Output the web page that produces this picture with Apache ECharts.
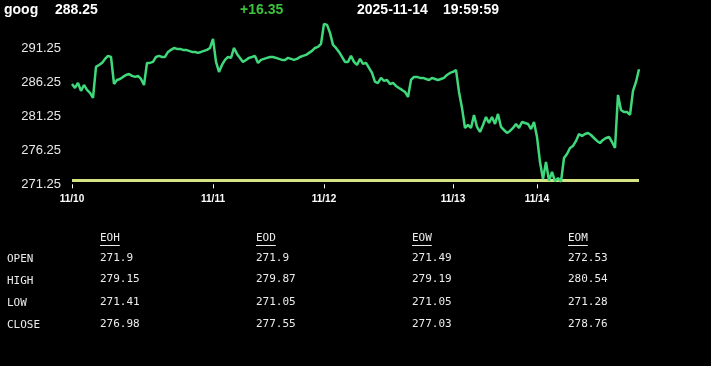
<!DOCTYPE html>
<html>
<head>
<meta charset="utf-8">
<script src="https://cdn.jsdelivr.net/npm/echarts@6.0.0/dist/echarts.min.js"></script>
<style>
html,body{margin:0;padding:0;background:#000;}
#c{width:711px;height:366px;}
</style>
</head>
<body>
<div id="c"></div>
<script>
// ---- data ----
const symbol = 'goog';
const lastPrice = '288.25';
const change = '+16.35';
const dateStr = '2025-11-14';
const timeStr = '19:59:59';
const prevClose = 271.9;

const dayLabels = ['11/10', '11/11', '11/12', '11/13', '11/14'];
const day1 = [286.07,285.48,286.22,285.04,285.92,285.19,284.74,284.00,288.59,288.88,289.18,289.77,290.21,290.06,
  286.07,286.66,286.81,287.11,287.40,287.55,287.26,287.11,287.26,286.81,285.92,
  289.18,289.18,289.33,290.06,290.21,290.06,290.06,290.80,291.10,291.39,291.25,291.25,291.10,291.10,290.95,290.80,290.80,290.66,290.80,290.95,291.10,291.39];
const day2 = [292.72,289.33,287.85,288.88,289.62,290.06,289.92,291.39,290.51,289.92,289.33,289.62,289.92,290.06,290.21,
  289.18,289.62,289.77,289.92,290.06,290.06,289.92,289.77,289.62,289.62,289.92,289.77,289.62,289.77,290.06,
  290.21,290.36,290.66,290.95,291.39,291.54,291.99];
const day3 = [294.94,294.79,293.61,291.84,291.39,290.80,290.06,289.33,289.33,290.21,289.33,288.88,289.77,289.03,289.18,
  288.44,287.70,286.37,286.22,286.96,286.52,286.66,286.07,286.22,285.78,285.48,285.19,284.89,284.15,
  286.66,287.11,287.11,286.96,286.96,286.81,286.66,286.96,286.81,286.66,286.81,286.96,287.40,287.70];
const day4 = [287.85,288.14,284.89,282.53,279.57,280.01,279.57,281.49,279.72,278.98,280.01,281.19,280.31,281.19,
  280.16,281.64,279.72,279.27,278.83,279.13,279.57,280.16,279.57,280.46,280.31,280.16,279.42,280.46];
const day5 = [278.24,274.54,272.03,274.54,271.75,273.07,271.70,272.18,271.65,275.13,275.73,276.61,276.91,277.65,
  278.68,278.39,278.68,278.83,278.53,278.09,277.65,277.35,277.80,278.09,278.24,277.50,276.61,
  284.45,282.23,281.93,281.93,281.49,285.04,286.37,288.25];

const yTicks = [271.25, 276.25, 281.25, 286.25, 291.25];

const tableCols = ['EOH', 'EOD', 'EOW', 'EOM'];
const tableRows = ['OPEN', 'HIGH', 'LOW', 'CLOSE'];
const eoh = ['271.9', '279.15', '271.41', '276.98'];
const eod = ['271.9', '279.87', '271.05', '277.55'];
const eow = ['271.49', '279.19', '271.05', '277.03'];
const eom = ['272.53', '280.54', '271.28', '278.76'];

// ---- build ----
const days = [day1, day2, day3, day4, day5];
const categories = [];
const values = [];
const dayStart = new Set();
days.forEach((arr, d) => {
  dayStart.add(categories.length);
  arr.forEach((v, k) => { categories.push(dayLabels[d] + ' ' + k); values.push(v); });
});
const showTick = (idx) => dayStart.has(idx);

const colX = [100, 256, 412, 568];
const rowY = [262.5, 284, 306.5, 328.5];
const tableData = [eoh, eod, eow, eom];
const mono = '"DejaVu Sans Mono", "Liberation Mono", monospace';
const txtCol = '#ececec';

const graphic = [];
const hdrFont = 'bold 14px "Liberation Sans", Arial, sans-serif';
[[symbol, 4, '#fff'], [lastPrice, 55, '#fff'], [change, 240, '#3cc43c'], [dateStr, 357, '#fff'], [timeStr, 443, '#fff']].forEach(([t, x, c]) => {
  graphic.push({type: 'text', left: x, top: 3, style: {text: t, fill: c, font: hdrFont}});
});
tableCols.forEach((h, c) => {
  graphic.push({type: 'text', left: colX[c], top: 233, style: {text: h, fill: txtCol, font: '11px ' + mono}});
  graphic.push({type: 'line', shape: {x1: colX[c], y1: 245.5, x2: colX[c] + h.length * 6.6, y2: 245.5}, style: {stroke: txtCol, lineWidth: 1}});
  tableData[c].forEach((v, r) => {
    graphic.push({type: 'text', left: colX[c], top: rowY[r] - 10, style: {text: v, fill: txtCol, font: '11px ' + mono}});
  });
});
tableRows.forEach((lab, r) => {
  graphic.push({type: 'text', left: 7, top: rowY[r] - 8.5, style: {text: lab, fill: txtCol, font: '11px ' + mono}});
});

const chart = echarts.init(document.getElementById('c'), null, {renderer: 'canvas'});
chart.setOption({
  backgroundColor: '#000',
  animation: false,
  grid: {left: 72, right: 72, top: 23.5, bottom: 181.7},
  xAxis: {
    type: 'category',
    data: categories,
    boundaryGap: false,
    axisLine: {show: false},
    axisTick: {show: true, interval: showTick, length: 4, lineStyle: {color: '#fff', width: 1}},
    axisLabel: {interval: showTick, formatter: (v) => v.split(' ')[0], color: '#fff', fontSize: 10, fontWeight: 'bold',
      fontFamily: '"Liberation Sans", Arial, sans-serif', margin: 10},
    splitLine: {show: false}
  },
  yAxis: {
    type: 'value',
    min: 271.25,
    max: 295,
    interval: 1.25,
    axisLine: {show: false},
    axisTick: {show: false},
    splitLine: {show: false},
    axisLabel: {
      formatter: (v) => yTicks.some(t => Math.abs(t - v) < 1e-6) ? v.toFixed(2) : '',
      color: '#e8e8e8', fontSize: 13, fontFamily: '"Liberation Sans", Arial, sans-serif', margin: 11
    }
  },
  series: [{
    type: 'line',
    data: values,
    symbol: 'none',
    lineStyle: {color: '#3fd97c', width: 2.5},
    z: 3,
    markLine: {
      silent: true,
      symbol: 'none',
      label: {show: false},
      lineStyle: {color: '#d6e483', width: 3, type: 'solid'},
      data: [{yAxis: prevClose}],
      z: 2
    }
  }],
  graphic: graphic
});
</script>
</body>
</html>
